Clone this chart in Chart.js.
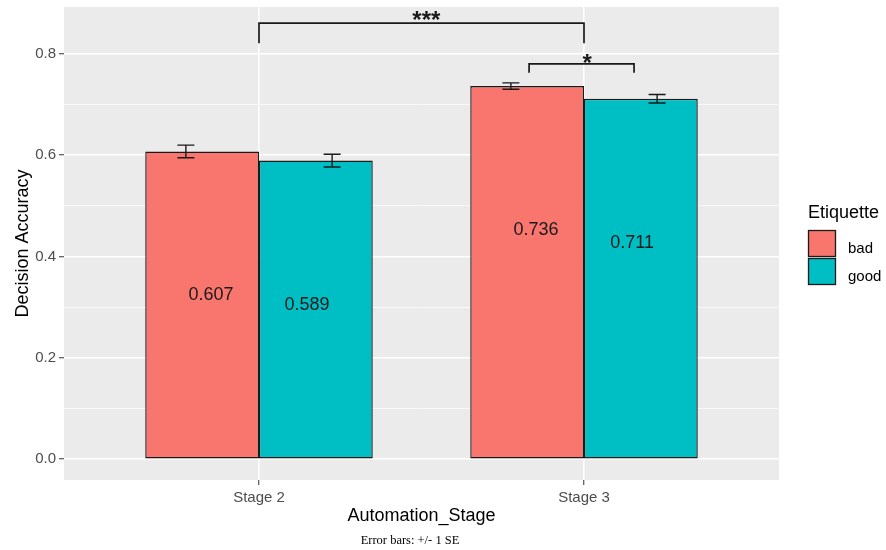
<!DOCTYPE html>
<html><head><meta charset="utf-8">
<script src="https://cdn.jsdelivr.net/npm/chart.js@4"></script>
<style>html,body{margin:0;padding:0;background:#fff}#wrap{width:886px;height:550px}</style>
</head><body><div id="wrap"><canvas id="c" width="886" height="550"></canvas></div>
<script>
// ---- data ----
const stages = ['Stage 2', 'Stage 3'];
const stagePos = [1, 2];
const groups = ['bad', 'good'];
const badAcc = [0.607, 0.736];
const goodAcc = [0.589, 0.711];
const badSE = [0.0125, 0.0063];
const goodSE = [0.0125, 0.0085];
const badLabels = ['0.607', '0.736'];
const goodLabels = ['0.589', '0.711'];
const yMajorTicks = [0.0, 0.2, 0.4, 0.6, 0.8];
const yMinorTicks = [0.1, 0.3, 0.5, 0.7];
const bracketBigX = [1, 1, 2, 2];
const bracketBigY = [0.8205, 0.860, 0.860, 0.8205];
const bracketSmallX = [1.831, 1.831, 2.154, 2.154];
const bracketSmallY = [0.7625, 0.7797, 0.7797, 0.7625];
const sigLabels = ['***', '*'];
const sigX = [1.515, 2.01];
const sigY = [0.8744, 0.7897];
const legendTitle = 'Etiquette';
const xTitle = 'Automation_Stage';
const yTitle = 'Decision Accuracy';
const caption = 'Error bars: +/- 1 SE';

// ---- style ----
const FONT = '"Liberation Sans", Arial, Helvetica, sans-serif';
const SERIF = '"Liberation Serif", "Times New Roman", serif';
const fills = ['#F8766D', '#00BFC4'];
const INK = '#1a1a1a';
const ERR_DODGE = 0.225, LABEL_DODGE = 0.148, LABEL_DROP = 144, CAP_HALF = 8.5;
const isMajor = v => yMajorTicks.some(m => Math.abs(m - v) < 1e-9);

const barSets = [
  {vals: badAcc, se: badSE, labels: badLabels, side: -1},
  {vals: goodAcc, se: goodSE, labels: goodLabels, side: 1}
];

const datasets = barSets.map((s, gi) => ({
  type: 'bar', label: groups[gi],
  data: stagePos.map((x, i) => ({x: x, y: s.vals[i]})),
  backgroundColor: fills[gi], borderColor: INK, borderWidth: 1.4, borderSkipped: false,
  categoryPercentage: 0.7, barPercentage: 1.0, order: 2
}));
[[bracketBigX, bracketBigY], [bracketSmallX, bracketSmallY]].forEach(([bx, by], k) => {
  datasets.push({
    type: 'line', label: 'bracket' + k,
    data: bx.map((x, i) => ({x: x, y: by[i]})),
    borderColor: INK, borderWidth: 1.7, pointRadius: 0, fill: false, tension: 0, order: 0
  });
});

const panelBg = {
  id: 'panelBg',
  beforeDraw(chart) {
    const {ctx, chartArea: a} = chart;
    ctx.save(); ctx.fillStyle = '#EBEBEB';
    ctx.fillRect(a.left, a.top, a.right - a.left, a.bottom - a.top);
    ctx.restore();
  }
};

const extras = {
  id: 'extras',
  afterDatasetsDraw(chart) {
    const {ctx} = chart;
    const xs = chart.scales.x, ys = chart.scales.y;
    ctx.save();
    // error bars
    ctx.strokeStyle = INK; ctx.lineWidth = 1.4;
    barSets.forEach(s => {
      stagePos.forEach((p, i) => {
        const cx = xs.getPixelForValue(p + s.side * ERR_DODGE);
        const yt = ys.getPixelForValue(s.vals[i] + s.se[i]);
        const yb = ys.getPixelForValue(s.vals[i] - s.se[i]);
        ctx.beginPath();
        ctx.moveTo(cx, yt); ctx.lineTo(cx, yb);
        ctx.moveTo(cx - CAP_HALF, yt); ctx.lineTo(cx + CAP_HALF, yt);
        ctx.moveTo(cx - CAP_HALF, yb); ctx.lineTo(cx + CAP_HALF, yb);
        ctx.stroke();
      });
    });
    // value labels
    ctx.fillStyle = INK; ctx.font = '18px ' + FONT;
    ctx.textAlign = 'center'; ctx.textBaseline = 'middle';
    barSets.forEach(s => {
      stagePos.forEach((p, i) => {
        const cx = xs.getPixelForValue(p + s.side * LABEL_DODGE);
        const cy = ys.getPixelForValue(s.vals[i]) + LABEL_DROP;
        ctx.fillText(s.labels[i], cx, cy);
      });
    });
    // significance stars
    ctx.font = 'bold 24px ' + FONT; ctx.textBaseline = 'alphabetic';
    sigLabels.forEach((t, i) => {
      const m = ctx.measureText(t);
      const cy = ys.getPixelForValue(sigY[i]);
      const base = cy + (m.actualBoundingBoxAscent - m.actualBoundingBoxDescent) / 2;
      ctx.fillText(t, xs.getPixelForValue(sigX[i]), base);
    });
    ctx.restore();
  },
  afterDraw(chart) {
    const {ctx} = chart;
    ctx.save();
    // legend
    ctx.fillStyle = '#000'; ctx.font = '18px ' + FONT;
    ctx.textAlign = 'left'; ctx.textBaseline = 'alphabetic';
    ctx.fillText(legendTitle, 808, 218);
    groups.forEach((g, i) => {
      const y0 = 230 + i * 28;
      ctx.fillStyle = fills[i];
      ctx.fillRect(808, y0, 28, 27);
      ctx.strokeStyle = INK; ctx.lineWidth = 1.3;
      ctx.strokeRect(808.5, y0 + 0.5, 27, 26);
      ctx.fillStyle = '#000'; ctx.font = '15px ' + FONT;
      ctx.fillText(g, 848, y0 + 22.5);
    });
    // caption
    ctx.font = '12.5px ' + SERIF; ctx.textAlign = 'center'; ctx.textBaseline = 'middle';
    ctx.fillStyle = '#000';
    ctx.fillText(caption, 410, 541);
    ctx.restore();
  }
};

new Chart(document.getElementById('c'), {
  type: 'bar',
  data: {datasets: datasets},
  options: {
    responsive: false, animation: false, devicePixelRatio: 1,
    layout: {padding: {left: 0, right: 107, top: 7, bottom: 20}},
    plugins: {legend: {display: false}, tooltip: {enabled: false}, title: {display: false}},
    scales: {
      x: {
        type: 'linear', min: 0.4, max: 2.6, offset: false,
        afterBuildTicks: s => { s.ticks = stagePos.map(v => ({value: v})); },
        afterFit: s => { s.height = 50; s.paddingLeft = 0; s.paddingRight = 0; },
        ticks: {autoSkip: false, maxRotation: 0, padding: 4, color: '#4D4D4D',
          font: {family: FONT, size: 15},
          callback: v => { const k = stagePos.indexOf(v); return k >= 0 ? stages[k] : ''; }},
        grid: {color: '#FFFFFF', lineWidth: 1.5, offset: false, drawTicks: true,
          tickLength: 5, tickColor: '#333333', tickWidth: 1},
        border: {display: false},
        title: {display: true, text: xTitle, color: '#000',
          font: {family: FONT, size: 18}, padding: {top: 0, bottom: 3}}
      },
      y: {
        type: 'linear', min: -0.041, max: 0.892,
        afterBuildTicks: s => {
          s.ticks = yMajorTicks.concat(yMinorTicks).sort((a, b) => a - b).map(v => ({value: v}));
        },
        afterFit: s => { s.width = 64; s.paddingTop = 0; s.paddingBottom = 0; },
        ticks: {padding: 3, color: '#4D4D4D', font: {family: FONT, size: 15},
          callback: v => isMajor(v) ? v.toFixed(1) : ''},
        grid: {color: '#FFFFFF',
          lineWidth: c => (c.tick && isMajor(c.tick.value)) ? 1.5 : 0.7,
          tickColor: c => (c.tick && isMajor(c.tick.value)) ? '#333333' : 'rgba(0,0,0,0)',
          tickLength: 5, tickWidth: 1},
        border: {display: false},
        title: {display: true, text: yTitle, color: '#000',
          font: {family: FONT, size: 18}, padding: {top: 12, bottom: 0}}
      }
    }
  },
  plugins: [panelBg, extras]
});
</script>
</body></html>
